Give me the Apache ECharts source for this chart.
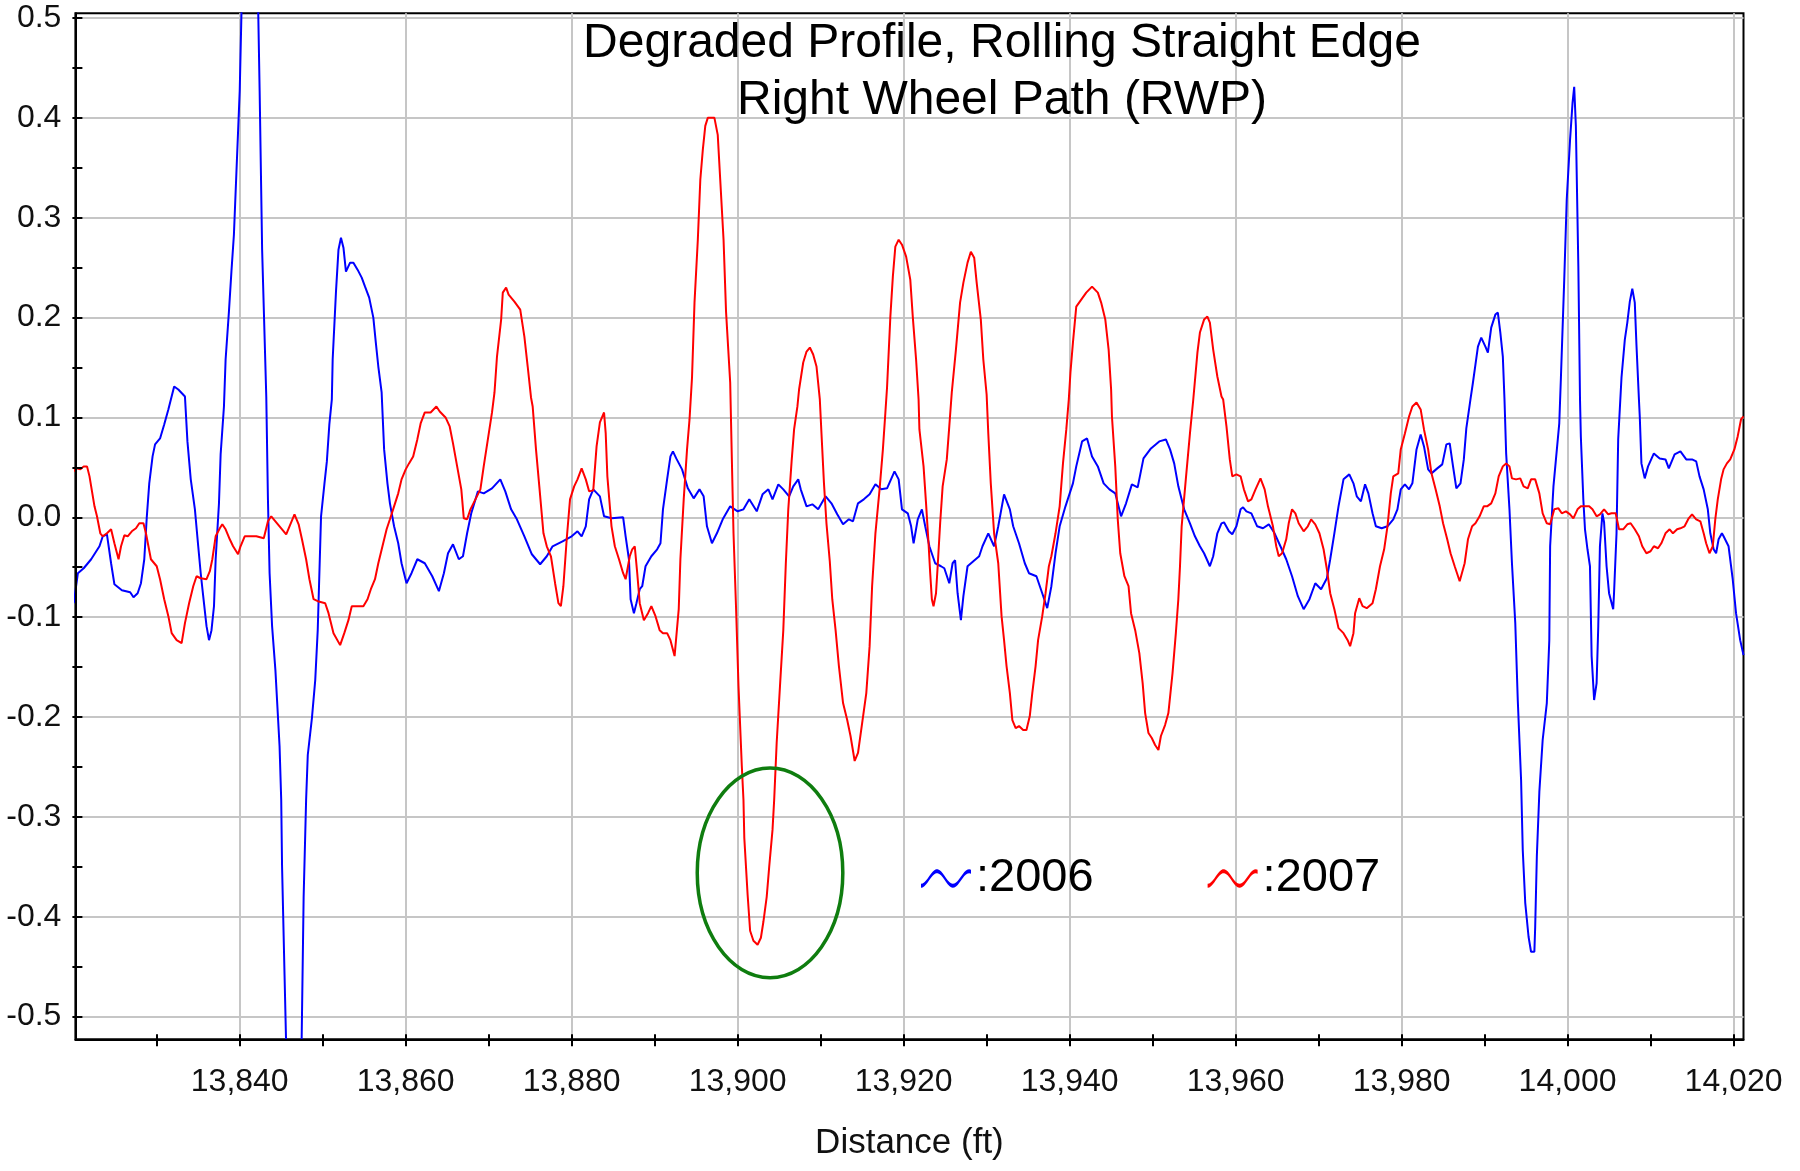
<!DOCTYPE html>
<html>
<head>
<meta charset="utf-8">
<script src="https://cdn.jsdelivr.net/npm/echarts@6/dist/echarts.min.js"></script>
<style>
html,body{margin:0;padding:0;background:#ffffff;}
#chart{width:1800px;height:1171px;}
</style>
</head>
<body>
<div id="chart"></div>
<script>
// ---------------- data (distance ft, elevation) ----------------
const seriesNames = ['2006', '2007'];

const profile2006 = [
[13820.0,-0.086],[13820.5,-0.056],[13821.2,-0.051],[13822.1,-0.042],[13823.1,-0.029],[13823.5,-0.019],[13824.0,-0.017],
[13824.5,-0.046],[13824.9,-0.067],[13825.8,-0.073],[13826.8,-0.075],[13827.2,-0.080],[13827.7,-0.076],[13828.1,-0.066],
[13828.5,-0.042],[13828.8,0.000],[13829.1,0.034],[13829.5,0.061],[13829.8,0.073],[13830.4,0.079],[13830.9,0.093],
[13831.4,0.108],[13832.1,0.131],[13832.6,0.128],[13833.4,0.121],[13833.7,0.076],[13834.1,0.038],[13834.6,0.008],
[13835.0,-0.029],[13835.3,-0.056],[13835.6,-0.079],[13836.0,-0.109],[13836.3,-0.123],[13836.6,-0.113],[13836.9,-0.089],
[13837.1,-0.042],[13837.5,0.014],[13837.7,0.063],[13838.1,0.111],[13838.3,0.158],[13838.7,0.206],[13839.0,0.246],
[13839.3,0.283],[13839.6,0.345],[13840.0,0.427],[13840.25,0.52],[13841.2,0.70],[13842.2,0.52],[13842.4,0.427],
[13842.7,0.268],[13843.2,0.121],[13843.4,0.018],[13843.6,-0.056],[13843.9,-0.109],[13844.3,-0.153],[13844.8,-0.229],
[13845.0,-0.283],[13845.1,-0.349],[13845.4,-0.458],[13845.6,-0.53],[13846.5,-0.72],[13847.45,-0.53],[13847.7,-0.381],
[13848.0,-0.283],[13848.2,-0.238],[13848.7,-0.201],[13849.1,-0.163],[13849.4,-0.113],[13849.8,0.001],[13850.2,0.033],
[13850.5,0.056],[13850.8,0.093],[13851.1,0.118],[13851.2,0.158],[13851.6,0.226],[13851.9,0.268],[13852.2,0.280],
[13852.5,0.270],[13852.8,0.246],[13853.3,0.255],[13853.7,0.255],[13854.2,0.248],[13854.7,0.240],[13855.1,0.231],
[13855.6,0.220],[13856.1,0.200],[13856.4,0.175],[13856.7,0.151],[13857.1,0.125],[13857.4,0.068],[13857.8,0.034],
[13858.1,0.014],[13858.6,-0.009],[13859.1,-0.026],[13859.5,-0.046],[13860.1,-0.066],[13860.7,-0.056],[13861.4,-0.042],
[13862.3,-0.046],[13863.2,-0.059],[13864.0,-0.074],[13864.6,-0.056],[13865.1,-0.036],[13865.7,-0.027],[13866.4,-0.042],
[13866.9,-0.039],[13867.4,-0.016],[13867.9,0.004],[13868.7,0.026],[13869.4,0.024],[13870.4,0.029],[13871.4,0.038],
[13872.0,0.026],[13872.7,0.008],[13873.4,-0.002],[13874.3,-0.019],[13875.2,-0.037],[13876.2,-0.047],[13877.0,-0.039],
[13877.7,-0.029],[13878.9,-0.024],[13880.0,-0.019],[13880.7,-0.014],[13881.2,-0.019],[13881.7,-0.009],[13882.1,0.018],
[13882.6,0.028],[13883.4,0.021],[13883.9,0.001],[13884.8,-0.001],[13886.2,0.000],[13886.5,-0.019],[13886.9,-0.042],
[13887.1,-0.082],[13887.5,-0.096],[13887.8,-0.086],[13888.2,-0.072],[13888.5,-0.069],[13888.9,-0.049],[13889.6,-0.039],
[13890.3,-0.032],[13890.7,-0.026],[13891.0,0.008],[13891.5,0.038],[13891.9,0.061],[13892.2,0.066],[13892.6,0.059],
[13893.3,0.048],[13894.0,0.029],[13894.7,0.019],[13895.4,0.028],[13895.9,0.021],[13896.3,-0.009],[13896.9,-0.026],
[13897.5,-0.016],[13898.2,-0.002],[13899.1,0.011],[13900.0,0.006],[13900.7,0.008],[13901.4,0.018],[13902.3,0.006],
[13903.0,0.023],[13903.7,0.028],[13904.2,0.018],[13904.9,0.033],[13905.5,0.028],[13906.2,0.021],[13906.7,0.031],
[13907.3,0.038],[13907.6,0.028],[13908.3,0.011],[13909.0,0.013],[13909.7,0.008],[13910.6,0.021],[13911.3,0.014],
[13912.0,0.003],[13912.7,-0.007],[13913.4,-0.002],[13913.9,-0.004],[13914.5,0.014],[13915.2,0.018],[13915.9,0.023],
[13916.6,0.033],[13917.3,0.028],[13918.0,0.029],[13918.9,0.046],[13919.4,0.038],[13919.8,0.008],[13920.5,0.004],
[13920.9,-0.009],[13921.2,-0.026],[13921.7,-0.002],[13922.2,0.008],[13922.6,-0.009],[13923.1,-0.029],[13923.8,-0.046],
[13924.5,-0.049],[13924.9,-0.051],[13925.5,-0.066],[13925.9,-0.046],[13926.2,-0.043],[13926.5,-0.076],[13926.9,-0.103],
[13927.2,-0.079],[13927.7,-0.049],[13928.4,-0.044],[13929.1,-0.039],[13929.5,-0.029],[13930.2,-0.016],[13930.9,-0.029],
[13931.4,-0.009],[13932.1,0.023],[13932.8,0.008],[13933.2,-0.009],[13933.9,-0.026],[13934.6,-0.046],[13935.1,-0.056],
[13936.0,-0.059],[13936.7,-0.076],[13937.3,-0.091],[13937.8,-0.069],[13938.3,-0.036],[13938.8,-0.009],[13939.5,0.011],
[13940.4,0.034],[13940.8,0.051],[13941.5,0.076],[13942.1,0.079],[13942.7,0.061],[13943.4,0.051],[13944.1,0.034],
[13944.8,0.028],[13945.5,0.024],[13946.2,0.001],[13946.8,0.014],[13947.5,0.033],[13948.2,0.030],[13948.9,0.059],
[13949.8,0.069],[13950.8,0.076],[13951.6,0.078],[13952.1,0.068],[13952.6,0.054],[13953.1,0.031],[13953.8,0.008],
[13954.5,-0.006],[13955.1,-0.019],[13955.7,-0.029],[13956.2,-0.036],[13956.9,-0.049],[13957.3,-0.039],[13957.8,-0.016],
[13958.3,-0.006],[13958.6,-0.005],[13959.2,-0.014],[13959.6,-0.017],[13960.1,-0.009],[13960.6,0.008],[13960.9,0.010],
[13961.3,0.006],[13961.9,0.004],[13962.6,-0.009],[13963.3,-0.011],[13964.0,-0.007],[13964.7,-0.016],[13965.4,-0.029],
[13966.1,-0.042],[13966.8,-0.059],[13967.5,-0.079],[13968.2,-0.092],[13968.9,-0.082],[13969.6,-0.066],[13970.3,-0.072],
[13971.0,-0.061],[13971.4,-0.042],[13971.9,-0.016],[13972.4,0.011],[13973.0,0.038],[13973.7,0.043],[13974.2,0.034],
[13974.6,0.021],[13975.1,0.016],[13975.6,0.033],[13976.0,0.024],[13976.5,0.004],[13976.9,-0.009],[13977.6,-0.011],
[13978.3,-0.009],[13979.0,-0.002],[13979.5,0.008],[13979.9,0.028],[13980.4,0.033],[13980.9,0.028],[13981.3,0.034],
[13981.8,0.068],[13982.3,0.083],[13982.7,0.071],[13983.2,0.048],[13983.6,0.044],[13984.3,0.049],[13984.9,0.053],
[13985.4,0.073],[13985.8,0.074],[13986.2,0.051],[13986.6,0.029],[13987.1,0.034],[13987.5,0.058],[13987.8,0.089],
[13988.3,0.118],[13988.6,0.135],[13988.9,0.153],[13989.2,0.171],[13989.6,0.180],[13990.1,0.171],[13990.4,0.165],
[13990.8,0.190],[13991.3,0.203],[13991.6,0.205],[13991.9,0.185],[13992.2,0.161],[13992.4,0.118],[13992.6,0.064],
[13993.0,0.008],[13993.3,-0.046],[13993.7,-0.106],[13994.0,-0.183],[13994.4,-0.263],[13994.6,-0.333],[13994.9,-0.386],
[13995.3,-0.420],[13995.6,-0.435],[13996.0,-0.435],[13996.1,-0.410],[13996.3,-0.339],[13996.6,-0.275],[13997.0,-0.223],
[13997.5,-0.186],[13997.8,-0.123],[13997.9,-0.029],[13998.3,0.031],[13998.6,0.058],[13999.0,0.094],[13999.2,0.140],
[13999.6,0.238],[13999.9,0.318],[14000.3,0.378],[14000.6,0.415],[14000.8,0.431],[14001.0,0.392],[14001.3,0.251],
[14001.5,0.118],[14001.6,0.081],[14001.9,0.018],[14002.1,-0.012],[14002.4,-0.032],[14002.7,-0.049],[14002.9,-0.139],
[14003.2,-0.183],[14003.5,-0.166],[14003.7,-0.109],[14003.9,-0.029],[14004.2,0.004],[14004.4,-0.005],[14004.7,-0.049],
[14005.0,-0.076],[14005.5,-0.092],[14005.6,-0.076],[14005.9,-0.016],[14006.1,0.078],[14006.5,0.140],[14006.9,0.178],
[14007.2,0.195],[14007.5,0.216],[14007.8,0.229],[14008.1,0.215],[14008.3,0.173],[14008.6,0.118],[14008.7,0.101],
[14008.9,0.054],[14009.3,0.039],[14009.7,0.051],[14010.4,0.064],[14011.1,0.059],[14011.8,0.058],[14012.2,0.049],
[14012.9,0.063],[14013.6,0.066],[14014.3,0.058],[14015.0,0.058],[14015.5,0.056],[14015.9,0.041],[14016.4,0.028],
[14016.9,0.008],[14017.2,-0.016],[14017.6,-0.032],[14017.9,-0.036],[14018.2,-0.022],[14018.6,-0.016],[14018.8,-0.019],
[14019.4,-0.029],[14019.9,-0.062],[14020.3,-0.096],[14020.8,-0.123],[14021.2,-0.138]
];

const profile2007 = [
[13820.0,0.046],[13820.3,0.049],[13820.8,0.048],[13821.2,0.051],[13821.6,0.051],[13821.9,0.041],[13822.1,0.031],
[13822.5,0.011],[13822.8,0.001],[13823.2,-0.016],[13823.5,-0.019],[13824.0,-0.016],[13824.5,-0.012],[13824.9,-0.026],
[13825.4,-0.042],[13825.7,-0.029],[13826.1,-0.018],[13826.5,-0.019],[13827.0,-0.014],[13827.5,-0.011],[13827.9,-0.006],
[13828.4,-0.006],[13828.7,-0.016],[13829.3,-0.042],[13830.0,-0.049],[13830.4,-0.062],[13830.9,-0.082],[13831.4,-0.099],
[13831.8,-0.116],[13832.4,-0.123],[13833.0,-0.126],[13833.4,-0.106],[13833.9,-0.086],[13834.4,-0.069],[13834.8,-0.059],
[13835.3,-0.061],[13836.0,-0.062],[13836.4,-0.054],[13836.7,-0.042],[13837.1,-0.019],[13837.6,-0.011],[13837.9,-0.007],
[13838.3,-0.012],[13838.8,-0.022],[13839.2,-0.029],[13839.8,-0.037],[13840.1,-0.029],[13840.6,-0.019],[13841.3,-0.019],
[13842.0,-0.019],[13842.9,-0.021],[13843.4,-0.004],[13843.8,0.001],[13844.3,-0.004],[13845.0,-0.011],[13845.6,-0.017],
[13846.0,-0.009],[13846.6,0.003],[13847.1,-0.007],[13847.5,-0.022],[13848.0,-0.042],[13848.4,-0.062],[13848.9,-0.082],
[13849.4,-0.084],[13850.3,-0.086],[13850.7,-0.096],[13851.3,-0.116],[13852.1,-0.128],[13852.6,-0.116],[13853.1,-0.103],
[13853.5,-0.089],[13854.2,-0.089],[13854.9,-0.089],[13855.4,-0.082],[13855.8,-0.072],[13856.3,-0.062],[13856.7,-0.046],
[13857.2,-0.029],[13857.7,-0.012],[13858.1,-0.002],[13858.6,0.011],[13859.1,0.024],[13859.5,0.038],[13860.0,0.048],
[13860.4,0.054],[13860.9,0.061],[13861.4,0.078],[13861.8,0.094],[13862.3,0.105],[13863.0,0.105],[13863.7,0.111],
[13864.1,0.106],[13864.8,0.100],[13865.3,0.091],[13865.7,0.074],[13866.2,0.051],[13866.7,0.028],[13867.0,-0.001],
[13867.4,-0.002],[13867.8,0.008],[13868.4,0.018],[13869.0,0.028],[13869.4,0.051],[13869.9,0.078],[13870.4,0.105],
[13870.7,0.125],[13871.0,0.161],[13871.5,0.198],[13871.7,0.225],[13872.1,0.230],[13872.4,0.223],[13873.1,0.216],
[13873.8,0.208],[13874.3,0.181],[13874.7,0.151],[13875.1,0.120],[13875.3,0.111],[13875.7,0.068],[13876.1,0.031],
[13876.6,-0.016],[13877.0,-0.029],[13877.5,-0.039],[13878.0,-0.066],[13878.4,-0.086],[13878.7,-0.089],[13879.0,-0.069],
[13879.4,-0.022],[13879.8,0.018],[13880.3,0.031],[13880.7,0.038],[13881.2,0.049],[13881.7,0.038],[13882.1,0.026],
[13882.6,0.027],[13883.0,0.071],[13883.4,0.095],[13883.9,0.105],[13884.1,0.084],[13884.3,0.041],[13884.8,-0.009],
[13885.2,-0.029],[13885.7,-0.042],[13886.2,-0.056],[13886.5,-0.062],[13887.0,-0.039],[13887.3,-0.032],[13887.6,-0.029],
[13887.9,-0.056],[13888.2,-0.086],[13888.7,-0.103],[13889.2,-0.096],[13889.6,-0.089],[13890.1,-0.099],[13890.6,-0.113],
[13891.0,-0.116],[13891.5,-0.116],[13891.9,-0.123],[13892.4,-0.139],[13892.9,-0.092],[13893.1,-0.042],[13893.5,0.018],
[13893.9,0.068],[13894.2,0.098],[13894.5,0.140],[13894.8,0.215],[13895.2,0.278],[13895.5,0.338],[13895.8,0.368],
[13896.1,0.392],[13896.4,0.400],[13897.2,0.400],[13897.6,0.383],[13897.9,0.338],[13898.3,0.278],[13898.6,0.206],
[13899.1,0.135],[13899.3,0.058],[13899.5,-0.016],[13899.8,-0.089],[13900.1,-0.169],[13900.5,-0.249],[13900.7,-0.283],
[13900.8,-0.321],[13901.2,-0.378],[13901.5,-0.414],[13901.9,-0.424],[13902.4,-0.428],[13902.8,-0.421],[13903.1,-0.405],
[13903.5,-0.380],[13903.8,-0.350],[13904.2,-0.313],[13904.4,-0.283],[13904.7,-0.226],[13905.1,-0.169],[13905.5,-0.113],
[13905.8,-0.047],[13906.1,0.008],[13906.5,0.056],[13906.8,0.088],[13907.2,0.111],[13907.4,0.128],[13907.9,0.155],
[13908.3,0.166],[13908.7,0.170],[13909.1,0.163],[13909.5,0.151],[13909.9,0.118],[13910.1,0.084],[13910.4,0.034],
[13910.7,-0.006],[13911.1,-0.044],[13911.4,-0.082],[13911.8,-0.113],[13912.2,-0.149],[13912.7,-0.186],[13913.2,-0.203],
[13913.6,-0.219],[13914.1,-0.244],[13914.5,-0.236],[13915.0,-0.206],[13915.5,-0.176],[13915.9,-0.129],[13916.2,-0.069],
[13916.6,-0.016],[13917.1,0.028],[13917.5,0.068],[13917.8,0.105],[13918.0,0.130],[13918.4,0.201],[13918.7,0.241],
[13919.0,0.271],[13919.4,0.278],[13919.8,0.273],[13920.3,0.261],[13920.8,0.238],[13921.1,0.201],[13921.5,0.158],
[13921.8,0.118],[13921.9,0.088],[13922.4,0.051],[13922.7,0.014],[13923.0,-0.026],[13923.2,-0.056],[13923.4,-0.082],
[13923.6,-0.089],[13923.9,-0.076],[13924.1,-0.049],[13924.4,-0.006],[13924.7,0.031],[13925.2,0.058],[13925.5,0.091],
[13925.8,0.125],[13926.3,0.168],[13926.8,0.215],[13927.2,0.235],[13927.7,0.255],[13928.1,0.266],[13928.5,0.260],
[13928.8,0.235],[13929.3,0.198],[13929.6,0.158],[13930.0,0.123],[13930.2,0.084],[13930.5,0.034],[13930.9,-0.016],
[13931.4,-0.046],[13931.8,-0.099],[13932.1,-0.123],[13932.4,-0.149],[13932.8,-0.176],[13933.1,-0.203],[13933.5,-0.211],
[13933.9,-0.209],[13934.4,-0.213],[13934.8,-0.213],[13935.2,-0.199],[13935.5,-0.176],[13935.9,-0.149],[13936.2,-0.123],
[13936.7,-0.099],[13937.1,-0.076],[13937.5,-0.049],[13937.8,-0.039],[13938.3,-0.016],[13938.8,0.011],[13939.2,0.054],
[13939.6,0.088],[13939.9,0.118],[13940.1,0.145],[13940.4,0.175],[13940.8,0.211],[13941.4,0.218],[13942.0,0.225],
[13942.7,0.231],[13943.4,0.225],[13943.8,0.215],[13944.3,0.198],[13944.7,0.168],[13945.0,0.128],[13945.1,0.101],
[13945.5,0.051],[13945.8,-0.002],[13946.1,-0.036],[13946.6,-0.059],[13947.1,-0.069],[13947.4,-0.096],[13947.9,-0.113],
[13948.4,-0.136],[13948.8,-0.166],[13949.1,-0.196],[13949.5,-0.216],[13949.9,-0.221],[13950.3,-0.228],[13950.7,-0.233],
[13951.0,-0.219],[13951.5,-0.208],[13951.9,-0.196],[13952.4,-0.156],[13952.8,-0.116],[13953.1,-0.082],[13953.3,-0.049],
[13953.5,-0.009],[13954.0,0.038],[13954.5,0.084],[13954.9,0.118],[13955.4,0.165],[13955.7,0.185],[13956.2,0.198],
[13956.6,0.201],[13956.9,0.195],[13957.3,0.168],[13957.8,0.141],[13958.3,0.121],[13958.5,0.118],[13958.9,0.091],
[13959.3,0.058],[13959.6,0.041],[13960.1,0.043],[13960.6,0.041],[13961.0,0.028],[13961.5,0.016],[13961.9,0.018],
[13962.4,0.028],[13963.0,0.039],[13963.5,0.028],[13963.9,0.011],[13964.5,-0.009],[13964.9,-0.029],[13965.2,-0.039],
[13965.6,-0.036],[13966.1,-0.022],[13966.4,-0.006],[13966.8,0.008],[13967.2,0.004],[13967.6,-0.006],[13968.2,-0.014],
[13968.7,-0.009],[13969.1,-0.002],[13969.6,-0.007],[13970.1,-0.016],[13970.6,-0.032],[13971.0,-0.052],[13971.4,-0.076],
[13971.9,-0.092],[13972.4,-0.111],[13973.0,-0.116],[13973.5,-0.123],[13973.8,-0.129],[13974.2,-0.116],[13974.4,-0.096],
[13974.9,-0.081],[13975.3,-0.089],[13975.8,-0.091],[13976.5,-0.086],[13976.9,-0.072],[13977.4,-0.049],[13977.9,-0.032],
[13978.3,-0.009],[13978.7,0.024],[13979.0,0.041],[13979.6,0.044],[13979.9,0.068],[13980.4,0.084],[13980.9,0.101],
[13981.3,0.111],[13981.8,0.115],[13982.3,0.108],[13982.7,0.088],[13983.2,0.068],[13983.6,0.044],[13984.1,0.028],
[13984.6,0.011],[13985.0,-0.006],[13985.5,-0.022],[13985.9,-0.036],[13986.4,-0.049],[13987.0,-0.064],[13987.6,-0.046],
[13988.0,-0.022],[13988.5,-0.009],[13988.9,-0.006],[13989.4,0.001],[13989.9,0.011],[13990.3,0.011],[13990.8,0.014],
[13991.3,0.024],[13991.7,0.041],[13992.2,0.051],[13992.6,0.054],[13993.0,0.051],[13993.3,0.039],[13993.8,0.038],
[13994.3,0.039],[13994.7,0.031],[13995.2,0.029],[13995.6,0.038],[13996.1,0.038],[13996.6,0.024],[13997.0,0.004],
[13997.5,-0.006],[13997.9,-0.007],[13998.4,0.008],[13998.9,0.009],[13999.3,0.004],[13999.8,0.006],[14000.3,0.003],
[14000.7,-0.001],[14001.2,0.008],[14001.6,0.011],[14002.1,0.011],[14002.6,0.011],[14003.0,0.008],[14003.5,0.001],
[14003.9,0.003],[14004.4,0.008],[14004.9,0.003],[14005.3,0.004],[14005.8,0.004],[14006.2,-0.012],[14006.7,-0.012],
[14007.2,-0.007],[14007.6,-0.006],[14008.1,-0.012],[14008.6,-0.019],[14009.0,-0.029],[14009.5,-0.036],[14010.0,-0.034],
[14010.4,-0.029],[14010.9,-0.031],[14011.3,-0.026],[14011.8,-0.016],[14012.3,-0.012],[14012.7,-0.016],[14013.2,-0.012],
[14013.6,-0.011],[14014.1,-0.009],[14014.6,-0.001],[14015.0,0.003],[14015.5,-0.002],[14016.0,-0.004],[14016.4,-0.016],
[14016.7,-0.026],[14017.1,-0.036],[14017.5,-0.029],[14017.8,-0.002],[14018.1,0.018],[14018.5,0.038],[14018.8,0.048],
[14019.2,0.054],[14019.6,0.058],[14020.1,0.068],[14020.5,0.081],[14020.9,0.098],[14021.2,0.101]
];

// axis ranges and tick / label values
const xRange = [13820.2, 14021.2];
const yRange = [-0.5227, 0.5047];
const xLabelValues = [13840, 13860, 13880, 13900, 13920, 13940, 13960, 13980, 14000, 14020];
const xTickValues = [13830, 13840, 13850, 13860, 13870, 13880, 13890, 13900, 13910, 13920,
                     13930, 13940, 13950, 13960, 13970, 13980, 13990, 14000, 14010, 14020];
const yLabelValues = [-0.5, -0.4, -0.3, -0.2, -0.1, 0.0, 0.1, 0.2, 0.3, 0.4, 0.5];
const yTickValues = [-0.5, -0.45, -0.4, -0.35, -0.3, -0.25, -0.2, -0.15, -0.1, -0.05, 0.0,
                     0.05, 0.1, 0.15, 0.2, 0.25, 0.3, 0.35, 0.4, 0.45, 0.5];

// annotation: ellipse around the 2007 dip (data units)
const noteCenter = [13903.9, -0.356];
const noteHalfSize = [8.77, 0.105];

const titleText = 'Degraded Profile, Rolling Straight Edge\nRight Wheel Path (RWP)';
const xAxisTitle = 'Distance (ft)';

// ---------------- styling ----------------
const TICK_FONT = 'Liberation Sans, Arial, sans-serif';
const gridColor = '#c6c6c6';

function fmtThousands(v) {
  return String(Math.round(v)).replace(/\B(?=(\d{3})+(?!\d))/g, ',');
}

function waveIcon() {
  const N = 30, w = 50, h = 19, half = 2.0;
  const up = [], lo = [];
  for (let i = 0; i <= N; i++) {
    const t = i / N;
    const x = w * t;
    const y = h / 2 + (h / 2 - half - 0.2) * Math.cos(2 * Math.PI * t / 0.64);
    up.push(x.toFixed(2) + ',' + (y - half).toFixed(2));
    lo.push(x.toFixed(2) + ',' + (y + half).toFixed(2));
  }
  lo.reverse();
  return 'path://M' + up.join(' L') + ' L' + lo.join(' L') + ' Z';
}

const baseX = { type: 'value', gridIndex: 0, min: xRange[0], max: xRange[1], position: 'bottom' };
const baseY = { type: 'value', gridIndex: 0, min: yRange[0], max: yRange[1], position: 'left' };

const chart = echarts.init(document.getElementById('chart'), null, { renderer: 'canvas', width: 1800, height: 1171 });

chart.setOption({
  backgroundColor: '#ffffff',
  animation: false,
  title: {
    text: titleText,
    left: 997,
    top: 10,
    textAlign: 'center',
    textStyle: { fontFamily: 'Liberation Sans, Arial, sans-serif', fontSize: 48, fontWeight: 'normal', color: '#000', lineHeight: 57 }
  },
  legend: {
    data: seriesNames,
    left: 921,
    top: 855,
    padding: 0,
    orient: 'horizontal',
    itemWidth: 50,
    itemHeight: 19,
    itemGap: 114,
    icon: waveIcon(),
    selectedMode: false,
    itemStyle: { borderWidth: 0 },
    formatter: name => ':' + name,
    textStyle: { fontFamily: 'Liberation Sans, Arial, sans-serif', fontSize: 47, color: '#000' }
  },
  grid: {
    left: 75.4, top: 13.3, right: 56.5, bottom: 131.7,
    show: true, borderColor: '#000', borderWidth: 2, backgroundColor: '#ffffff'
  },
  xAxis: [
    Object.assign({}, baseX, {
      name: xAxisTitle,
      nameLocation: 'middle',
      nameGap: 87,
      nameTextStyle: { fontFamily: TICK_FONT, fontSize: 35, color: '#111' },
      axisLine: { show: true, onZero: false, lineStyle: { color: '#000', width: 2 } },
      axisTick: { show: true, inside: true, length: 5, customValues: xTickValues, lineStyle: { color: '#000', width: 2 } },
      axisLabel: { show: true, customValues: xLabelValues, formatter: fmtThousands, margin: 27,
                   fontFamily: TICK_FONT, fontSize: 32, color: '#111' },
      splitLine: { show: false },
      z: 5
    }),
    Object.assign({}, baseX, {
      axisLine: { show: false, onZero: false },
      axisTick: { show: true, inside: false, length: 7, customValues: xTickValues, lineStyle: { color: '#000', width: 2 } },
      axisLabel: { show: false },
      splitLine: { show: false },
      z: 5
    }),
    Object.assign({}, baseX, {
      axisLine: { show: false, onZero: false },
      axisTick: { show: false, customValues: xLabelValues },
      axisLabel: { show: false },
      splitLine: { show: true, lineStyle: { color: gridColor, width: 2 } },
      z: 0
    })
  ],
  yAxis: [
    Object.assign({}, baseY, {
      axisLine: { show: true, onZero: false, lineStyle: { color: '#000', width: 2 } },
      axisTick: { show: true, inside: true, length: 7, customValues: yTickValues, lineStyle: { color: '#000', width: 2 } },
      axisLabel: { show: true, customValues: yLabelValues, formatter: v => v.toFixed(1), margin: 14,
                   fontFamily: TICK_FONT, fontSize: 32, color: '#111' },
      splitLine: { show: false },
      z: 5
    }),
    Object.assign({}, baseY, {
      axisLine: { show: false, onZero: false },
      axisTick: { show: true, inside: false, length: 3, customValues: yTickValues, lineStyle: { color: '#000', width: 2 } },
      axisLabel: { show: false },
      splitLine: { show: false },
      z: 5
    }),
    Object.assign({}, baseY, {
      axisLine: { show: false, onZero: false },
      axisTick: { show: false, customValues: yLabelValues },
      axisLabel: { show: false },
      splitLine: { show: true, lineStyle: { color: gridColor, width: 2 } },
      z: 0
    })
  ],
  series: [
    {
      name: seriesNames[0], type: 'line', xAxisIndex: 0, yAxisIndex: 0,
      data: profile2006, showSymbol: false, symbol: 'none', clip: true,
      color: '#0000ff', lineStyle: { color: '#0000ff', width: 2 }, z: 3
    },
    {
      name: seriesNames[1], type: 'line', xAxisIndex: 0, yAxisIndex: 0,
      data: profile2007, showSymbol: false, symbol: 'none', clip: true,
      color: '#ff0000', lineStyle: { color: '#ff0000', width: 2 }, z: 4
    }
  ]
});

// ellipse annotation placed through the axis scales
const c = chart.convertToPixel({ seriesIndex: 0 }, noteCenter);
const e = chart.convertToPixel({ seriesIndex: 0 }, [noteCenter[0] + noteHalfSize[0], noteCenter[1] + noteHalfSize[1]]);
chart.setOption({
  graphic: [{
    type: 'ellipse',
    z: 20,
    silent: true,
    shape: { cx: c[0], cy: c[1], rx: Math.abs(e[0] - c[0]), ry: Math.abs(c[1] - e[1]) },
    style: { fill: 'none', stroke: '#0f7d0f', lineWidth: 3.5 }
  }]
});
</script>
</body>
</html>
